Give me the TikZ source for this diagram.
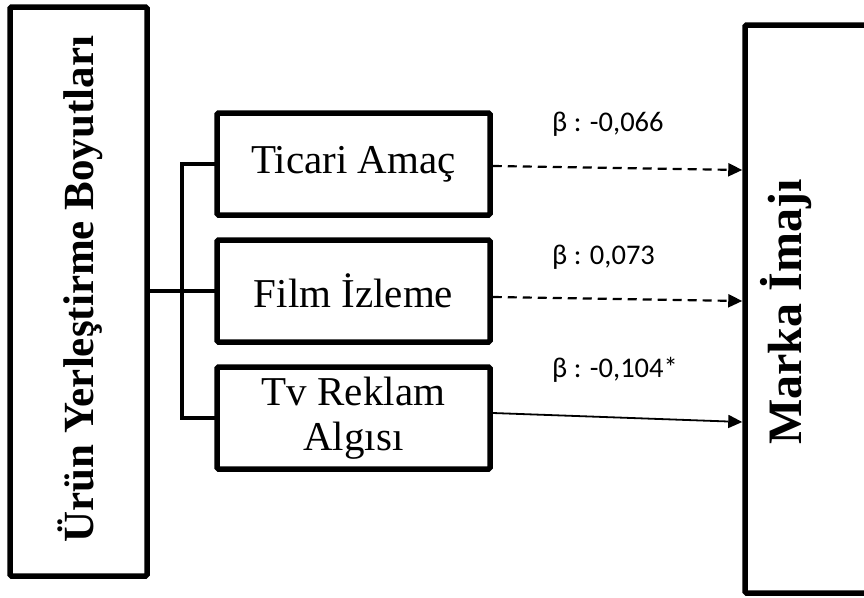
\documentclass[tikz,border=0pt]{standalone}
\usepackage{fontspec}
\setmainfont{Liberation Serif}
\newfontfamily\betafont{Carlito}
\usetikzlibrary{arrows.meta,calc}
\begin{document}
\begin{tikzpicture}[x=1pt,y=-1pt]
\tikzset{
 outerbox/.style={draw, line width=5.5pt, rounded corners=1.5pt, inner sep=0pt},
 midbox/.style={draw, line width=5.5pt, rounded corners=1.5pt, minimum width=273pt, minimum height=102pt, inner sep=0pt, font=\fontsize{41}{45}\selectfont, align=center},
 tree/.style={line width=4.5pt, line cap=rect},
 dasharrow/.style={line width=2.2pt, dash pattern=on 9pt off 6pt, -{Triangle[length=14pt,width=13pt]}},
 solidarrow/.style={line width=1.8pt, -{Triangle[length=14pt,width=13pt]}},
 betalabel/.style={font=\betafont\fontsize{28.5}{31}\selectfont, anchor=base west, inner sep=0pt},
 vlabel/.style={font=\bfseries\fontsize{43}{47}\selectfont, rotate=90, inner sep=0pt}
}
\useasboundingbox (0,0) rectangle (864,597);
\clip (0,0) rectangle (864,597);
\fill[white] (0,0) rectangle (864,597);

% outer boxes
\node[outerbox, minimum width=137pt, minimum height=569pt] (left) at (78.5,291.5) {};
\node[vlabel] (lefttxt) at (80,289) {Ürün Yerleştirme Boyutları};
\node[outerbox, minimum width=140pt, minimum height=568pt] (marka) at (815,309) {};
\node[vlabel, font=\bfseries\fontsize{48}{53}\selectfont] (markatxt) at (786,312) {Marka İmajı};

% middle boxes
\node[midbox] (ticari) at (353.5,164) {Ticari Amaç};
\node[midbox] (film) at (353.5,291) {Film İzleme};
\node[midbox] (tv) at (353.5,418) {Tv Reklam\\Algısı};

% tree connectors
\coordinate (jx) at (182,0);
\draw[tree] (left.east |- film.west) -- (film.west);
\draw[tree] (ticari.west) -- (jx |- ticari.west) -- (jx |- tv.west) -- (tv.west);

% arrows
\coordinate (y1) at (0,170);
\coordinate (y2) at (0,301);
\coordinate (y3) at (0,422);
\draw[dasharrow] ($(ticari.east)+(0,2)$) -- (marka.west |- y1);
\draw[dasharrow] ($(film.east)+(0,6)$) -- (marka.west |- y2);
\draw[solidarrow] ($(tv.east)+(0,-5)$) -- (marka.west |- y3);

% labels
\node[betalabel] (b1) at (552,131) {β : -0,066};
\node[betalabel] (b2) at (552,264) {β : 0,073};
\node[betalabel] (b3) at (552,377) {β : -0,104*};
\end{tikzpicture}
\end{document}
